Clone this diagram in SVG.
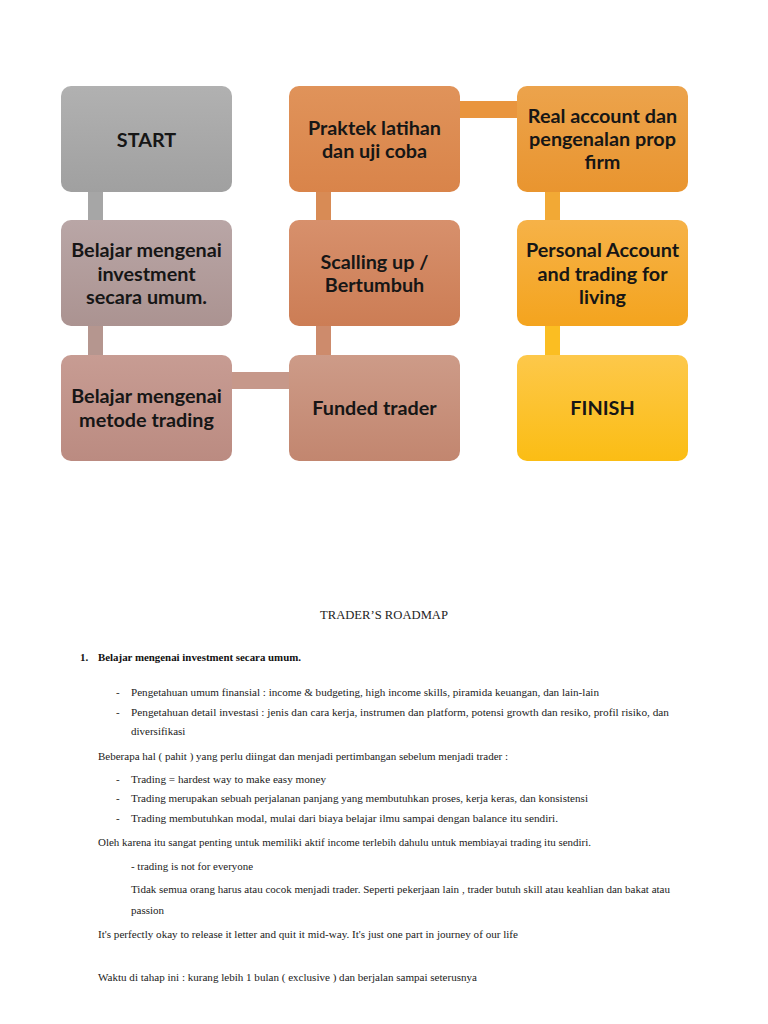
<svg xmlns="http://www.w3.org/2000/svg" width="768" height="1024" viewBox="0 0 768 1024">
<defs>
<linearGradient id="gStart" x1="0" y1="0" x2="0" y2="1"><stop offset="0" stop-color="#b1b1b1"/><stop offset="1" stop-color="#a0a0a0"/></linearGradient>
<linearGradient id="gInv" x1="0" y1="0" x2="0" y2="1"><stop offset="0" stop-color="#b9a6a6"/><stop offset="1" stop-color="#ab9391"/></linearGradient>
<linearGradient id="gMet" x1="0" y1="0" x2="0" y2="1"><stop offset="0" stop-color="#c79c93"/><stop offset="1" stop-color="#bb8b81"/></linearGradient>
<linearGradient id="gFund" x1="0" y1="0" x2="0" y2="1"><stop offset="0" stop-color="#cd9b88"/><stop offset="1" stop-color="#c2866f"/></linearGradient>
<linearGradient id="gScal" x1="0" y1="0" x2="0" y2="1"><stop offset="0" stop-color="#d7906c"/><stop offset="1" stop-color="#cc7d55"/></linearGradient>
<linearGradient id="gPrak" x1="0" y1="0" x2="0" y2="1"><stop offset="0" stop-color="#e0935a"/><stop offset="1" stop-color="#d9844a"/></linearGradient>
<linearGradient id="gReal" x1="0" y1="0" x2="0" y2="1"><stop offset="0" stop-color="#eca34c"/><stop offset="1" stop-color="#e9952f"/></linearGradient>
<linearGradient id="gPers" x1="0" y1="0" x2="0" y2="1"><stop offset="0" stop-color="#f6b248"/><stop offset="1" stop-color="#f4a41e"/></linearGradient>
<linearGradient id="gFin" x1="0" y1="0" x2="0" y2="1"><stop offset="0" stop-color="#fdc84a"/><stop offset="1" stop-color="#fbbd14"/></linearGradient>
</defs>
<style>
.box{stroke:none}
.lbl{font-family:Lato,"Open Sans","Liberation Sans",sans-serif;font-weight:bold;font-size:19.8px;fill:#161616;text-anchor:middle}
.body{font-family:"Liberation Serif","DejaVu Serif",serif;font-size:11px;fill:#222}
.hd{font-family:"Liberation Serif","DejaVu Serif",serif;font-size:11px;fill:#111;font-weight:bold}
.ttl{font-family:"Liberation Serif","DejaVu Serif",serif;font-size:12px;fill:#222;text-anchor:middle}
</style>
<rect width="768" height="1024" fill="#ffffff"/>
<g id="connectors">
<rect x="88" y="188" width="15" height="36" fill="#a6a6a6"/>
<rect x="88" y="323" width="15" height="36" fill="#b5968f"/>
<rect x="228" y="372" width="65" height="17" fill="#c6988a"/>
<rect x="316" y="323" width="15" height="36" fill="#cd8b6c"/>
<rect x="316" y="188" width="15" height="36" fill="#d88b55"/>
<rect x="456" y="101" width="65" height="17" fill="#e9953e"/>
<rect x="545" y="188" width="15" height="36" fill="#f2a935"/>
<rect x="545" y="323" width="15" height="36" fill="#fbbe22"/>
</g>
<g id="start"><rect class="box" x="61" y="86" width="171" height="106" rx="10" fill="url(#gStart)"/><text class="lbl" x="146.5" y="147">START</text></g>
<g id="belajar-investment"><rect class="box" x="61" y="220" width="171" height="106" rx="10" fill="url(#gInv)"/><text class="lbl" x="146.5" y="257">Belajar mengenai</text><text class="lbl" x="146.5" y="281">investment</text><text class="lbl" x="146.5" y="304">secara umum.</text></g>
<g id="belajar-metode"><rect class="box" x="61" y="355" width="171" height="106" rx="10" fill="url(#gMet)"/><text class="lbl" x="146.5" y="403">Belajar mengenai</text><text class="lbl" x="146.5" y="427">metode trading</text></g>
<g id="funded"><rect class="box" x="289" y="355" width="171" height="106" rx="10" fill="url(#gFund)"/><text class="lbl" x="374.5" y="415">Funded trader</text></g>
<g id="scalling"><rect class="box" x="289" y="220" width="171" height="106" rx="10" fill="url(#gScal)"/><text class="lbl" x="374.5" y="269">Scalling up /</text><text class="lbl" x="374.5" y="292">Bertumbuh</text></g>
<g id="praktek"><rect class="box" x="289" y="86" width="171" height="106" rx="10" fill="url(#gPrak)"/><text class="lbl" x="374.5" y="135">Praktek latihan</text><text class="lbl" x="374.5" y="158">dan uji coba</text></g>
<g id="real-account"><rect class="box" x="517" y="86" width="171" height="106" rx="10" fill="url(#gReal)"/><text class="lbl" x="602.5" y="123">Real account dan</text><text class="lbl" x="602.5" y="146">pengenalan prop</text><text class="lbl" x="602.5" y="169">firm</text></g>
<g id="personal"><rect class="box" x="517" y="220" width="171" height="106" rx="10" fill="url(#gPers)"/><text class="lbl" x="602.5" y="257">Personal Account</text><text class="lbl" x="602.5" y="281">and trading for</text><text class="lbl" x="602.5" y="304">living</text></g>
<g id="finish"><rect class="box" x="517" y="355" width="171" height="106" rx="10" fill="url(#gFin)"/><text class="lbl" x="602.5" y="415">FINISH</text></g>
<g id="document-text">
<text class="ttl" x="384" y="619" textLength="128" lengthAdjust="spacingAndGlyphs">TRADER’S ROADMAP</text>
<text class="hd" x="80" y="661">1.</text>
<text class="hd" x="98" y="661" textLength="203" lengthAdjust="spacingAndGlyphs">Belajar mengenai investment secara umum.</text>
<text class="body" x="116" y="696">-</text>
<text class="body" x="131" y="696" textLength="468" lengthAdjust="spacingAndGlyphs">Pengetahuan umum finansial :  income &amp; budgeting,  high income skills, piramida keuangan, dan lain-lain</text>
<text class="body" x="116" y="716">-</text>
<text class="body" x="131" y="716" textLength="538" lengthAdjust="spacingAndGlyphs">Pengetahuan detail investasi  :  jenis dan cara kerja, instrumen dan platform,  potensi growth  dan resiko,  profil risiko, dan</text>
<text class="body" x="131" y="735">diversifikasi</text>
<text class="body" x="98" y="760" textLength="410" lengthAdjust="spacingAndGlyphs">Beberapa hal ( pahit )  yang perlu diingat dan menjadi pertimbangan sebelum menjadi trader :</text>
<text class="body" x="116" y="783">-</text>
<text class="body" x="131" y="783" textLength="195" lengthAdjust="spacingAndGlyphs">Trading =  hardest way to make easy money</text>
<text class="body" x="116" y="802">-</text>
<text class="body" x="131" y="802" textLength="457" lengthAdjust="spacingAndGlyphs">Trading merupakan sebuah perjalanan panjang yang membutuhkan proses,  kerja keras,  dan konsistensi</text>
<text class="body" x="116" y="822">-</text>
<text class="body" x="131" y="822" textLength="427" lengthAdjust="spacingAndGlyphs">Trading membutuhkan modal,  mulai dari  biaya belajar  ilmu sampai dengan balance itu sendiri.</text>
<text class="body" x="98" y="846" textLength="493" lengthAdjust="spacingAndGlyphs">Oleh karena itu sangat penting untuk memiliki aktif income terlebih dahulu untuk membiayai trading itu sendiri.</text>
<text class="body" x="131" y="870" textLength="122" lengthAdjust="spacingAndGlyphs">- trading is not for everyone</text>
<text class="body" x="131" y="893" textLength="539" lengthAdjust="spacingAndGlyphs">Tidak semua orang harus atau cocok menjadi trader. Seperti pekerjaan lain , trader butuh skill atau keahlian dan bakat atau</text>
<text class="body" x="131" y="914">passion</text>
<text class="body" x="98" y="938" textLength="420" lengthAdjust="spacingAndGlyphs">It's perfectly okay to release it  letter and quit it mid-way. It's just  one part in journey of our life</text>
<text class="body" x="98" y="981" textLength="379" lengthAdjust="spacingAndGlyphs">Waktu di tahap ini : kurang lebih 1 bulan ( exclusive ) dan  berjalan sampai seterusnya</text>
</g>
</svg>
